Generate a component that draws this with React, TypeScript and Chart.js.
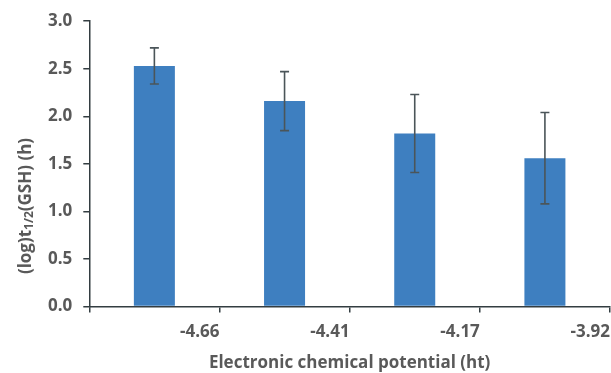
import React, { useEffect, useRef } from "react";
import { Chart, registerables } from "chart.js";

Chart.register(...registerables);

const categories = ["-4.66", "-4.41", "-4.17", "-3.92"];
const values = [2.53, 2.16, 1.82, 1.56];
const errors = [0.19, 0.31, 0.41, 0.48];
const yTicks = [0, 0.5, 1.0, 1.5, 2.0, 2.5, 3.0];
const xTitle = "Electronic chemical potential (ht)";
const yTitleParts = ["(log)t", "1/2", "(GSH) (h)"];

const TEXT = "#595959";
const AXIS = "#333d41";
const FONT = "'Open Sans', sans-serif";
const FS = 17;

const errorBarPlugin = {
  id: "errorBars",
  afterDatasetsDraw(chart: any) {
    const ctx = chart.ctx;
    const meta = chart.getDatasetMeta(0);
    const y = chart.scales.y;
    ctx.save();
    ctx.strokeStyle = "#4b5559";
    ctx.lineWidth = 1.6;
    meta.data.forEach((bar: any, i: number) => {
      const x = bar.x;
      const top = y.getPixelForValue(values[i] + errors[i]);
      const bot = y.getPixelForValue(values[i] - errors[i]);
      ctx.beginPath();
      ctx.moveTo(x, top);
      ctx.lineTo(x, bot);
      ctx.moveTo(x - 4.5, top);
      ctx.lineTo(x + 4.5, top);
      ctx.moveTo(x - 4.5, bot);
      ctx.lineTo(x + 4.5, bot);
      ctx.stroke();
    });
    ctx.restore();
  },
};

// category labels sit right-aligned at the right boundary of each category
const xLabelPlugin = {
  id: "xLabels",
  afterDraw(chart: any) {
    const ctx = chart.ctx;
    const xs = chart.scales.x;
    const half = (xs.getPixelForValue(1) - xs.getPixelForValue(0)) / 2;
    ctx.save();
    ctx.font = `bold ${FS}px ${FONT}`;
    ctx.fillStyle = TEXT;
    ctx.textAlign = "right";
    ctx.textBaseline = "middle";
    const y = chart.chartArea.bottom + 25.5;
    categories.forEach((c, i) => {
      ctx.fillText(c, xs.getPixelForValue(i) + half, y);
    });
    ctx.restore();
  },
};

const yTitlePlugin = {
  id: "yTitle",
  afterDraw(chart: any) {
    const ctx = chart.ctx;
    const big = `bold ${FS}px ${FONT}`;
    const small = `bold 12px ${FONT}`;
    ctx.save();
    ctx.font = big;
    const w0 = ctx.measureText(yTitleParts[0]).width;
    const w2 = ctx.measureText(yTitleParts[2]).width;
    ctx.font = small;
    const w1 = ctx.measureText(yTitleParts[1]).width;
    const total = w0 + w1 + w2;
    ctx.translate(26, 206);
    ctx.rotate(-Math.PI / 2);
    ctx.fillStyle = TEXT;
    ctx.textBaseline = "middle";
    ctx.textAlign = "left";
    let x = -total / 2;
    ctx.font = big;
    ctx.fillText(yTitleParts[0], x, 0);
    x += w0;
    ctx.font = small;
    ctx.fillText(yTitleParts[1], x, 4);
    x += w1;
    ctx.font = big;
    ctx.fillText(yTitleParts[2], x, 0);
    ctx.restore();
  },
};

export default function App() {
  const ref = useRef<HTMLCanvasElement>(null);
  useEffect(() => {
    if (!ref.current) return;
    const chart = new Chart(ref.current, {
      type: "bar",
      data: {
        labels: categories,
        datasets: [
          {
            data: values,
            backgroundColor: "#3e7fc0",
            borderWidth: 0,
            barPercentage: 0.315,
            categoryPercentage: 1,
          },
        ],
      },
      options: {
        animation: false,
        responsive: false,
        maintainAspectRatio: false,
        layout: { padding: { left: 37, right: 1, top: 7, bottom: 0 } },
        plugins: { legend: { display: false }, tooltip: { enabled: false } },
        scales: {
          x: {
            type: "category",
            offset: true,
            ticks: { display: false },
            grid: {
              display: true,
              offset: true,
              drawOnChartArea: false,
              drawTicks: true,
              tickLength: 6,
              color: AXIS,
              lineWidth: 1.5,
            },
            border: { display: true, color: AXIS, width: 1.5 },
            title: {
              display: true,
              text: xTitle,
              color: TEXT,
              font: { family: FONT, size: FS, weight: "bold" },
              padding: { top: 40, bottom: 0 },
            },
          },
          y: {
            min: 0,
            max: 3,
            afterBuildTicks: (scale: any) => {
              scale.ticks = yTicks.map((v) => ({ value: v }));
            },
            ticks: {
              padding: 11,
              color: TEXT,
              font: { family: FONT, size: FS, weight: "bold" },
              callback: (v: any) => Number(v).toFixed(1),
            },
            grid: {
              display: true,
              drawOnChartArea: false,
              drawTicks: true,
              tickLength: 6,
              color: AXIS,
              lineWidth: 1.5,
            },
            border: { display: true, color: AXIS, width: 1.5 },
          },
        },
      },
      plugins: [errorBarPlugin, xLabelPlugin, yTitlePlugin],
    });
    return () => chart.destroy();
  }, []);
  return (
    <div style={{ position: "fixed", left: 0, top: 0, width: 611, height: 373, background: "#fff" }}>
      <canvas ref={ref} width={611} height={373} />
    </div>
  );
}
